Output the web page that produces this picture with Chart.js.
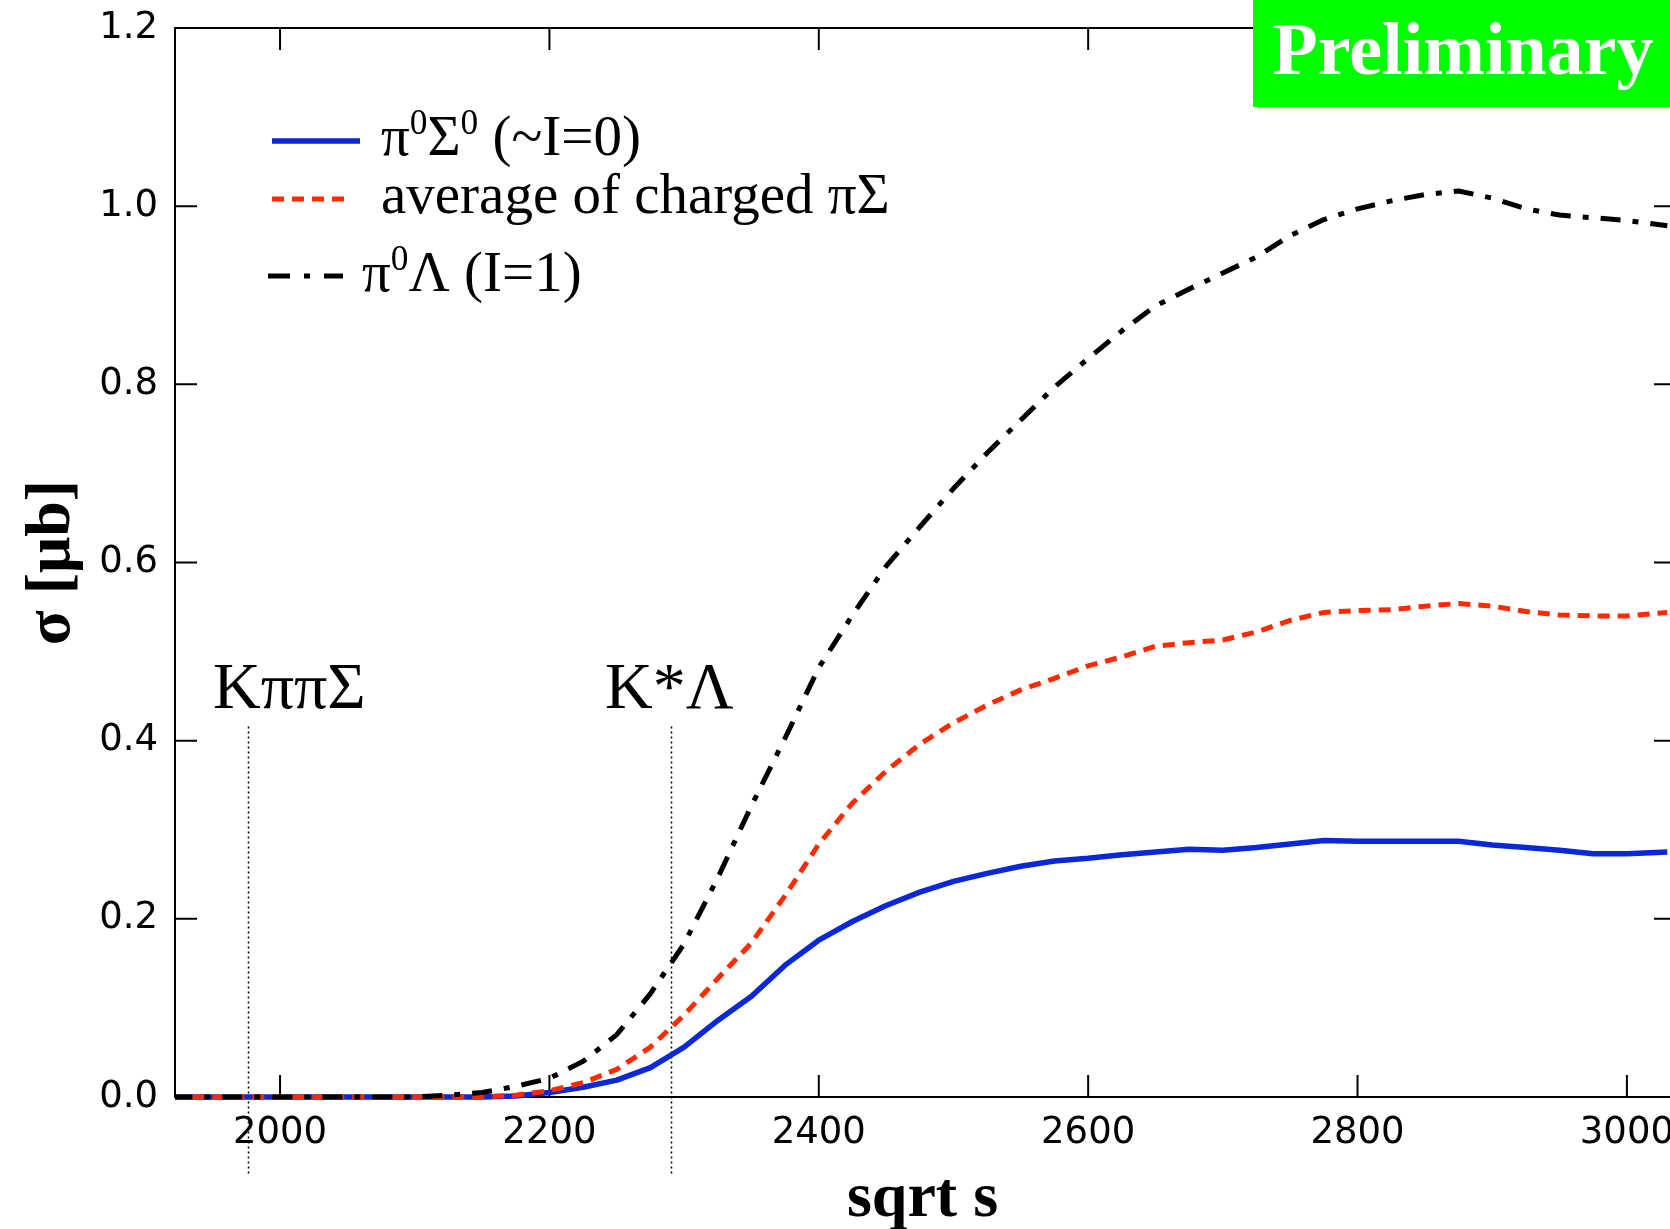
<!DOCTYPE html>
<html>
<head>
<meta charset="utf-8">
<script src="https://cdn.jsdelivr.net/npm/chart.js@4.4.1/dist/chart.umd.min.js"></script>
<style>
html, body { margin: 0; padding: 0; background: #fff; }
canvas { display: block; }
</style>
</head>
<body>
<canvas id="graf" width="1670" height="1229"></canvas>
<script>
// sqrt s [MeV]
const sqrtS = [1920, 2000, 2100, 2125, 2150, 2175, 2200, 2225, 2250, 2275, 2300, 2325, 2350, 2375, 2400,
    2425, 2450, 2475, 2500, 2525, 2550, 2575, 2600, 2625, 2650, 2675, 2700, 2725, 2750, 2775, 2800,
    2825, 2850, 2875, 2900, 2925, 2950, 2975, 3000, 3030];
// sigma [mu b]
const sigPi0Sig0 = [0, 0, 0, 0, 0, 0.001, 0.005, 0.011, 0.019, 0.033, 0.056, 0.086, 0.113, 0.148, 0.176,
    0.197, 0.215, 0.230, 0.242, 0.251, 0.259, 0.265, 0.268, 0.272, 0.275, 0.278, 0.277, 0.280, 0.284, 0.288, 0.287,
    0.287, 0.287, 0.287, 0.283, 0.280, 0.277, 0.273, 0.273, 0.275];
const sigChargedAvg = [0, 0, 0, 0, 0, 0.002, 0.007, 0.016, 0.031, 0.056, 0.092, 0.133, 0.173, 0.226, 0.284,
    0.330, 0.366, 0.396, 0.420, 0.440, 0.457, 0.470, 0.484, 0.494, 0.506, 0.510, 0.513, 0.522, 0.535, 0.544, 0.546,
    0.547, 0.551, 0.554, 0.551, 0.545, 0.541, 0.540, 0.540, 0.544];
const sigPi0Lam = [0, 0, 0, 0.002, 0.005, 0.012, 0.021, 0.040, 0.070, 0.116, 0.172, 0.246, 0.327, 0.403, 0.482,
    0.541, 0.596, 0.640, 0.683, 0.723, 0.760, 0.797, 0.829, 0.860, 0.888, 0.907, 0.925, 0.943, 0.967, 0.985, 0.997,
    1.006, 1.013, 1.017, 1.009, 0.997, 0.990, 0.987, 0.984, 0.978];

const xTicks = [2000, 2200, 2400, 2600, 2800, 3000];
const yTicks = [0, 0.2, 0.4, 0.6, 0.8, 1.0, 1.2];

const thrEnergy = [1976, 2290];
const thrLabel = ['KππΣ', 'K*Λ'];

const BLUE = '#0a28d8';
const RED = '#ff2a00';
const SERIF = '"Liberation Serif", "Times New Roman", serif';

function pts(ys) {
    return sqrtS.map((x, i) => ({x: x, y: ys[i]}));
}

function richText(ctx, parts, x, y, size) {
    parts.forEach(p => {
        let fs = p.sup ? size * 0.62 : size;
        ctx.font = fs + 'px ' + SERIF;
        ctx.fillText(p.t, x, p.sup ? y - size * 0.36 : y);
        x += ctx.measureText(p.t).width;
    });
}

const decor = {
    id: 'decor',
    beforeDatasetsDraw(chart) {
        const {ctx, chartArea: a, scales: {x, y}} = chart;
        ctx.save();
        ctx.strokeStyle = '#000';
        ctx.lineWidth = 2;
        ctx.beginPath();
        ctx.moveTo(a.right, a.top);
        ctx.lineTo(a.left, a.top);
        ctx.lineTo(a.left, a.bottom);
        ctx.lineTo(a.right, a.bottom);
        xTicks.forEach(v => {
            let px = x.getPixelForValue(v);
            ctx.moveTo(px, a.bottom); ctx.lineTo(px, a.bottom - 22);
            ctx.moveTo(px, a.top); ctx.lineTo(px, a.top + 22);
        });
        yTicks.forEach(v => {
            let py = y.getPixelForValue(v);
            ctx.moveTo(a.left, py); ctx.lineTo(a.left + 22, py);
            ctx.moveTo(a.right, py); ctx.lineTo(a.right - 16, py);
        });
        ctx.stroke();

        // threshold lines
        ctx.lineWidth = 1.5;
        ctx.setLineDash([2, 3]);
        thrEnergy.forEach(e => {
            let px = Math.round(x.getPixelForValue(e)) + 0.5;
            ctx.beginPath();
            ctx.moveTo(px, y.getPixelForValue(0.416));
            ctx.lineTo(px, y.getPixelForValue(-0.086));
            ctx.stroke();
        });
        ctx.restore();
    },
    afterDraw(chart) {
        const {ctx, chartArea: a} = chart;
        ctx.save();
        ctx.fillStyle = '#000';
        ctx.textBaseline = 'alphabetic';

        // threshold labels
        ctx.font = '66px ' + SERIF;
        ctx.fillText(thrLabel[0], 213, 708);
        ctx.fillText(thrLabel[1], 605, 708);

        // legend
        ctx.lineWidth = 5.5;
        ctx.strokeStyle = BLUE;
        ctx.beginPath(); ctx.moveTo(272, 141); ctx.lineTo(360, 141); ctx.stroke();
        ctx.lineWidth = 5;
        ctx.strokeStyle = RED;
        ctx.setLineDash([12, 8]);
        ctx.beginPath(); ctx.moveTo(272, 199); ctx.lineTo(346, 199); ctx.stroke();
        ctx.strokeStyle = '#000';
        ctx.setLineDash([22, 14, 6, 14]);
        ctx.beginPath(); ctx.moveTo(268, 276); ctx.lineTo(343, 276); ctx.stroke();
        ctx.setLineDash([]);

        richText(ctx, [{t: 'π'}, {t: '0', sup: true}, {t: 'Σ'}, {t: '0', sup: true}, {t: ' (~I=0)'}], 381, 155, 57);
        richText(ctx, [{t: 'average of charged πΣ'}], 381, 213, 57);
        richText(ctx, [{t: 'π'}, {t: '0', sup: true}, {t: 'Λ (I=1)'}], 362, 291, 57);

        // axis titles
        ctx.font = 'bold 64px ' + SERIF;
        ctx.textAlign = 'center';
        ctx.fillText('sqrt s', (a.left + a.right) / 2, 1216);
        ctx.save();
        ctx.translate(69, (a.top + a.bottom) / 2);
        ctx.rotate(-Math.PI / 2);
        ctx.font = 'bold 64px ' + SERIF;
        ctx.fillText('σ [μb]', 0, 0);
        ctx.restore();

        // preliminary tag
        ctx.fillStyle = '#00ff00';
        ctx.fillRect(1253, 0, 1670 - 1253, 107);
        ctx.fillStyle = '#fff';
        ctx.font = 'bold 74px ' + SERIF;
        ctx.fillText('Preliminary', 1463, 74);
        ctx.restore();
    }
};

document.addEventListener("DOMContentLoaded", () => {
    let cont = document.getElementById('graf').getContext('2d');
    let graf = new Chart(cont, {
        type: 'line',
        data: {
            datasets: [
                {
                    label: 'pi0 Sigma0 (~I=0)',
                    data: pts(sigPi0Sig0),
                    borderColor: BLUE,
                    borderWidth: 5.5,
                    order: 3,
                },
                {
                    label: 'average of charged pi Sigma',
                    data: pts(sigChargedAvg),
                    borderColor: RED,
                    borderWidth: 5,
                    borderDash: [12, 8],
                    order: 2,
                },
                {
                    label: 'pi0 Lambda (I=1)',
                    data: pts(sigPi0Lam),
                    borderColor: '#000',
                    borderWidth: 5,
                    borderDash: [20, 12, 6, 12],
                    order: 1,
                },
            ]
        },
        options: {
            responsive: false,
            animation: false,
            devicePixelRatio: 1,
            layout: {padding: {top: 28, left: 0, right: 0, bottom: 0}},
            elements: {
                point: {radius: 0},
                line: {tension: 0, fill: false, borderCapStyle: 'butt', borderJoinStyle: 'round'}
            },
            datasets: {line: {clip: {left: 0, top: 0, right: 0, bottom: 8}}},
            plugins: {legend: {display: false}, tooltip: {enabled: false}},
            scales: {
                x: {
                    type: 'linear',
                    min: 1922,
                    max: 3032,
                    grid: {display: false, drawTicks: false},
                    border: {display: false},
                    afterBuildTicks: s => { s.ticks = xTicks.map(v => ({value: v})); },
                    afterFit: s => { s.height = 132; s.paddingLeft = 0; s.paddingRight = 0; },
                    ticks: {
                        color: '#000',
                        font: {family: '"DejaVu Sans"', size: 37},
                        padding: 14,
                        maxRotation: 0,
                        autoSkip: false,
                        callback: v => String(v)
                    }
                },
                y: {
                    type: 'linear',
                    min: 0,
                    max: 1.2,
                    grid: {display: false, drawTicks: false},
                    border: {display: false},
                    afterBuildTicks: s => { s.ticks = yTicks.map(v => ({value: v})); },
                    afterFit: s => { s.width = 175; s.paddingTop = 0; s.paddingBottom = 0; },
                    ticks: {
                        color: '#000',
                        font: {family: '"DejaVu Sans"', size: 37},
                        padding: 17,
                        callback: v => v.toFixed(1)
                    }
                }
            }
        },
        plugins: [decor]
    });
});
</script>
</body>
</html>
